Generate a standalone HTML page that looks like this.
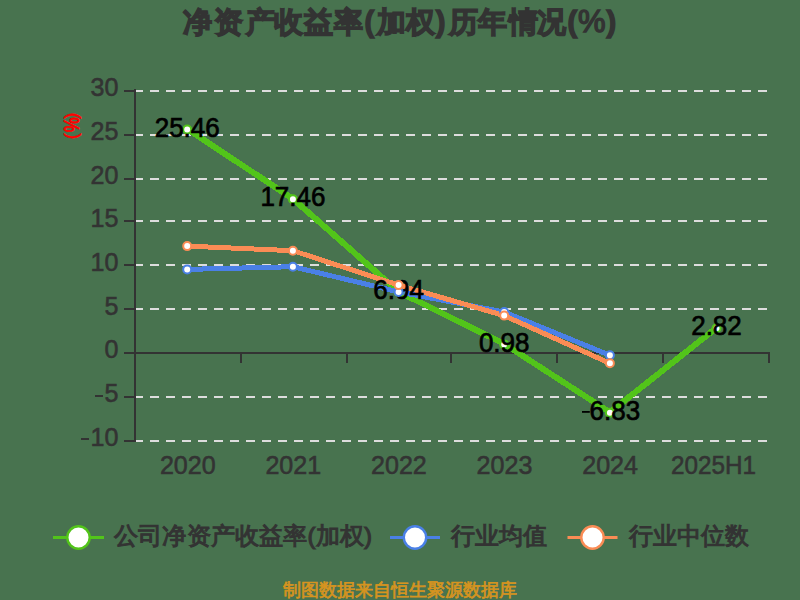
<!DOCTYPE html>
<html><head><meta charset="utf-8">
<style>
html,body{margin:0;padding:0;width:800px;height:600px;overflow:hidden;background:#48734f;}
svg{display:block;font-family:"Liberation Sans",sans-serif;}
</style></head>
<body>
<svg width="800" height="600" viewBox="0 0 800 600">
<rect width="800" height="600" fill="#48734f"/>
<!-- title -->
<text y="32" font-size="29" font-weight="bold" fill="#333" stroke="#333" stroke-width="1.4"><tspan x="182.8 213.8 245.7 273.8 304.4 333.7">净资产收益率</tspan><tspan x="364.6">(</tspan><tspan x="377.2 406.4">加权</tspan><tspan x="435.8">)</tspan><tspan x="448.6 477.6 508.6 536.6">历年情况</tspan><tspan x="567.5">(</tspan><tspan x="578" font-size="31" font-weight="normal">%</tspan><tspan x="606.5">)</tspan></text>
<!-- y axis name -->
<g transform="translate(74,126) rotate(90)" fill="#f00" stroke="#f00" stroke-width="0.6" font-size="18" text-anchor="middle"><text x="-10.3" y="6">(</text><text x="10.3" y="6">)</text><text transform="translate(-1.2,9.6) scale(0.78,1)" font-size="21.5" stroke-width="0.9">%</text></g>
<!-- gridlines -->
<g stroke="#dddddd" stroke-width="2" stroke-dasharray="9 7">
<line x1="134" y1="91" x2="769" y2="91"/>
<line x1="134" y1="135" x2="769" y2="135"/>
<line x1="134" y1="179" x2="769" y2="179"/>
<line x1="134" y1="221" x2="769" y2="221"/>
<line x1="134" y1="265" x2="769" y2="265"/>
<line x1="134" y1="309" x2="769" y2="309"/>
<line x1="134" y1="397" x2="769" y2="397"/>
<line x1="134" y1="441" x2="769" y2="441"/>
</g>
<!-- axes -->
<g stroke="#333" stroke-width="2" fill="none">
<line x1="135" y1="89" x2="135" y2="442"/>
<line x1="124" y1="91" x2="135" y2="91"/>
<line x1="124" y1="135" x2="135" y2="135"/>
<line x1="124" y1="179" x2="135" y2="179"/>
<line x1="124" y1="221" x2="135" y2="221"/>
<line x1="124" y1="265" x2="135" y2="265"/>
<line x1="124" y1="309" x2="135" y2="309"/>
<line x1="124" y1="353" x2="135" y2="353"/>
<line x1="124" y1="397" x2="135" y2="397"/>
<line x1="124" y1="441" x2="135" y2="441"/>
<line x1="134" y1="353" x2="770" y2="353"/>
<line x1="135" y1="352" x2="135" y2="363"/>
<line x1="241" y1="352" x2="241" y2="363"/>
<line x1="347" y1="352" x2="347" y2="363"/>
<line x1="451" y1="352" x2="451" y2="363"/>
<line x1="557" y1="352" x2="557" y2="363"/>
<line x1="663" y1="352" x2="663" y2="363"/>
<line x1="769" y1="352" x2="769" y2="363"/>
</g>
<!-- y labels -->
<g font-size="26" fill="#333" stroke="#333" stroke-width="0.6" text-anchor="end">
<text x="118.5" y="96.30" textLength="27.90" lengthAdjust="spacingAndGlyphs">30</text>
<text x="118.5" y="139.98" textLength="27.90" lengthAdjust="spacingAndGlyphs">25</text>
<text x="118.5" y="183.65" textLength="27.90" lengthAdjust="spacingAndGlyphs">20</text>
<text x="118.5" y="227.32" textLength="27.90" lengthAdjust="spacingAndGlyphs">15</text>
<text x="118.5" y="271.00" textLength="27.90" lengthAdjust="spacingAndGlyphs">10</text>
<text x="118.5" y="314.68" textLength="13.95" lengthAdjust="spacingAndGlyphs">5</text>
<text x="118.5" y="358.35" textLength="13.95" lengthAdjust="spacingAndGlyphs">0</text>
<text x="118.5" y="402.02" textLength="13.95" lengthAdjust="spacingAndGlyphs">5</text>
<text x="118.5" y="445.70" textLength="27.90" lengthAdjust="spacingAndGlyphs">10</text>
</g>
<rect x="95" y="395" width="8" height="2" fill="#333"/>
<rect x="81" y="438" width="8" height="2" fill="#333"/>
<!-- x labels -->
<g font-size="26" fill="#333" stroke="#333" stroke-width="0.6" text-anchor="middle">
<text x="187.8" y="474" textLength="55.8" lengthAdjust="spacingAndGlyphs">2020</text>
<text x="293.3" y="474" textLength="55.8" lengthAdjust="spacingAndGlyphs">2021</text>
<text x="398.9" y="474" textLength="55.8" lengthAdjust="spacingAndGlyphs">2022</text>
<text x="504.5" y="474" textLength="55.8" lengthAdjust="spacingAndGlyphs">2023</text>
<text x="610.1" y="474" textLength="55.8" lengthAdjust="spacingAndGlyphs">2024</text>
<text x="713.5" y="474" textLength="85" lengthAdjust="spacingAndGlyphs">2025H1</text>
</g>
<!-- series -->
<polyline shape-rendering="crispEdges" fill="none" stroke-width="6" stroke-linejoin="round" stroke="#52c41a" transform="translate(0,-0.5)" points="187.2,129.5 292.9,199.3 398.6,292.3 504.2,344.4 609.9,412.8 716.5,328.3"/>
<polyline shape-rendering="crispEdges" fill="none" stroke-width="5" stroke-linejoin="round" stroke="#4a80e6" points="187.2,269.4 292.9,266.7 398.6,291.9 504.2,312 609.9,355.3"/>
<polyline shape-rendering="crispEdges" fill="none" stroke-width="5" stroke-linejoin="round" stroke="#fa8c55" points="187.2,246.1 292.9,250.7 398.6,285.1 504.2,315.6 609.9,363.3"/>
<g fill="#fff" stroke="#52c41a" stroke-width="2"><circle cx="187.2" cy="129.5" r="4"/><circle cx="292.9" cy="199.3" r="4"/><circle cx="398.6" cy="292.3" r="4"/><circle cx="504.2" cy="344.4" r="4"/><circle cx="609.9" cy="412.8" r="4"/><circle cx="716.5" cy="328.3" r="4"/></g>
<g font-size="27.5" fill="#000" stroke="#000" stroke-width="0.7" text-anchor="middle"><text x="187.2" y="136.6" textLength="65.05" lengthAdjust="spacingAndGlyphs">25.46</text><text x="292.9" y="206.4" textLength="65.05" lengthAdjust="spacingAndGlyphs">17.46</text><text x="398.6" y="299.4" textLength="50.60" lengthAdjust="spacingAndGlyphs">6.94</text><text x="504.2" y="351.5" textLength="50.60" lengthAdjust="spacingAndGlyphs">0.98</text><text x="614.8" y="419.9" textLength="50.60" lengthAdjust="spacingAndGlyphs">6.83</text><rect x="582" y="411" width="7.8" height="1.8" stroke="none"/><text x="716.5" y="335.4" textLength="50.60" lengthAdjust="spacingAndGlyphs">2.82</text></g>
<g fill="#fff" stroke="#4a80e6" stroke-width="2"><circle cx="187.2" cy="269.4" r="4"/><circle cx="292.9" cy="266.7" r="4"/><circle cx="398.6" cy="291.9" r="4"/><circle cx="504.2" cy="312" r="4"/><circle cx="609.9" cy="355.3" r="4"/></g>
<g fill="#fff" stroke="#fa8c55" stroke-width="2"><circle cx="187.2" cy="246.1" r="4"/><circle cx="292.9" cy="250.7" r="4"/><circle cx="398.6" cy="285.1" r="4"/><circle cx="504.2" cy="315.6" r="4"/><circle cx="609.9" cy="363.3" r="4"/></g>
<!-- legend -->
<g stroke-width="3">
<line x1="53" y1="537.5" x2="104" y2="537.5" stroke="#52c41a"/>
<circle cx="78.5" cy="537.5" r="11.2" fill="#fff" stroke-width="2.4" stroke="#52c41a"/>
<line x1="390" y1="537.5" x2="440" y2="537.5" stroke="#4a80e6"/>
<circle cx="415" cy="537.5" r="11.2" fill="#fff" stroke-width="2.4" stroke="#4a80e6"/>
<line x1="567.5" y1="537.5" x2="617.5" y2="537.5" stroke="#fa8c55"/>
<circle cx="592.5" cy="537.5" r="11.2" fill="#fff" stroke-width="2.4" stroke="#fa8c55"/>
</g>
<g font-size="24" fill="#333" stroke="#333" stroke-width="1.1">
<text x="114" y="544.2" textLength="258" lengthAdjust="spacingAndGlyphs">公司净资产收益率(加权)</text>
<text x="450.7" y="544.2">行业均值</text>
<text x="628.5" y="544.2">行业中位数</text>
</g>
<!-- footer -->
<text x="400" y="596" text-anchor="middle" font-size="18" fill="#d6941f" stroke="#d6941f" stroke-width="0.7">制图数据来自恒生聚源数据库</text>
</svg>
</body></html>
